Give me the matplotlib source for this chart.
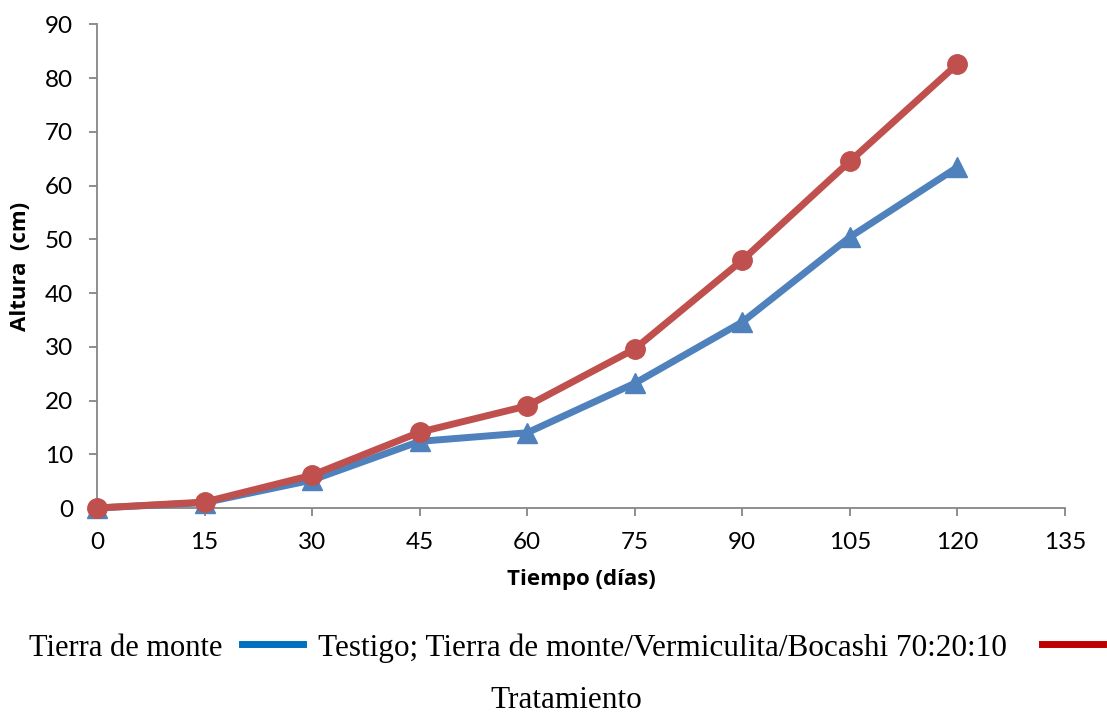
import matplotlib
matplotlib.use('Agg')
import matplotlib.pyplot as plt
from matplotlib.lines import Line2D

# data
dias = [0, 15, 30, 45, 60, 75, 90, 105, 120]
testigo = [0, 1.0, 5.2, 12.4, 14.0, 23.2, 34.6, 50.4, 63.4]
tratamiento = [0, 1.1, 6.1, 14.1, 19.0, 29.6, 46.1, 64.5, 82.6]
x_ticks = [0, 15, 30, 45, 60, 75, 90, 105, 120, 135]
y_ticks = [0, 10, 20, 30, 40, 50, 60, 70, 80, 90]

fig = plt.figure(figsize=(11.07, 7.14), dpi=100)
ax = fig.add_axes([0.0876, 0.2885, 0.8744, 0.6775])

ax.plot(dias, testigo, color='#4F81BD', lw=5, marker='^', ms=15,
        clip_on=False, zorder=3)
ax.plot(dias, tratamiento, color='#C0504D', lw=5, marker='o', ms=14,
        clip_on=False, zorder=4)

ax.set_xlim(0, 135)
ax.set_ylim(0, 90)
ax.set_xticks(x_ticks)
ax.set_yticks(y_ticks)
for s in ['top', 'right']:
    ax.spines[s].set_visible(False)
for s in ['left', 'bottom']:
    ax.spines[s].set_color('#868686')
    ax.spines[s].set_linewidth(1.3)
ax.tick_params(direction='out', length=6, width=1.3, color='#868686',
               labelsize=17.5)
ax.xaxis.set_tick_params(pad=11)
ax.yaxis.set_tick_params(pad=11)
for lab in ax.get_xticklabels() + ax.get_yticklabels():
    lab.set_family('Lato')

ax.set_xlabel('Tiempo (días)', fontsize=16, fontweight='bold',
              family='Open Sans', labelpad=12)
ax.set_ylabel('Altura  (cm)', fontsize=16, fontweight='bold',
              family='Open Sans', labelpad=10)

# legend drawn as text with short line samples
serif = 'Liberation Serif'
y_leg = 1 - 648 / 714
fig.text(222 / 1107, y_leg, 'Tierra de monte', family=serif,
         fontsize=22, va='center', ha='right')
fig.add_artist(Line2D([242 / 1107, 303 / 1107], [1 - 644 / 714] * 2,
                      color='#0070C0', lw=5, transform=fig.transFigure))
fig.text(318 / 1107, y_leg,
         'Testigo; Tierra de monte/Vermiculita/Bocashi 70:20:10',
         family=serif, fontsize=22.5, va='center', ha='left')
fig.add_artist(Line2D([1042 / 1107, 1103 / 1107], [1 - 644 / 714] * 2,
                      color='#C00000', lw=5, transform=fig.transFigure))
fig.text(566 / 1107, 1 - 700 / 714, 'Tratamiento', family=serif,
         fontsize=22.5, va='center', ha='center')

fig.savefig('out.png', dpi=100)
